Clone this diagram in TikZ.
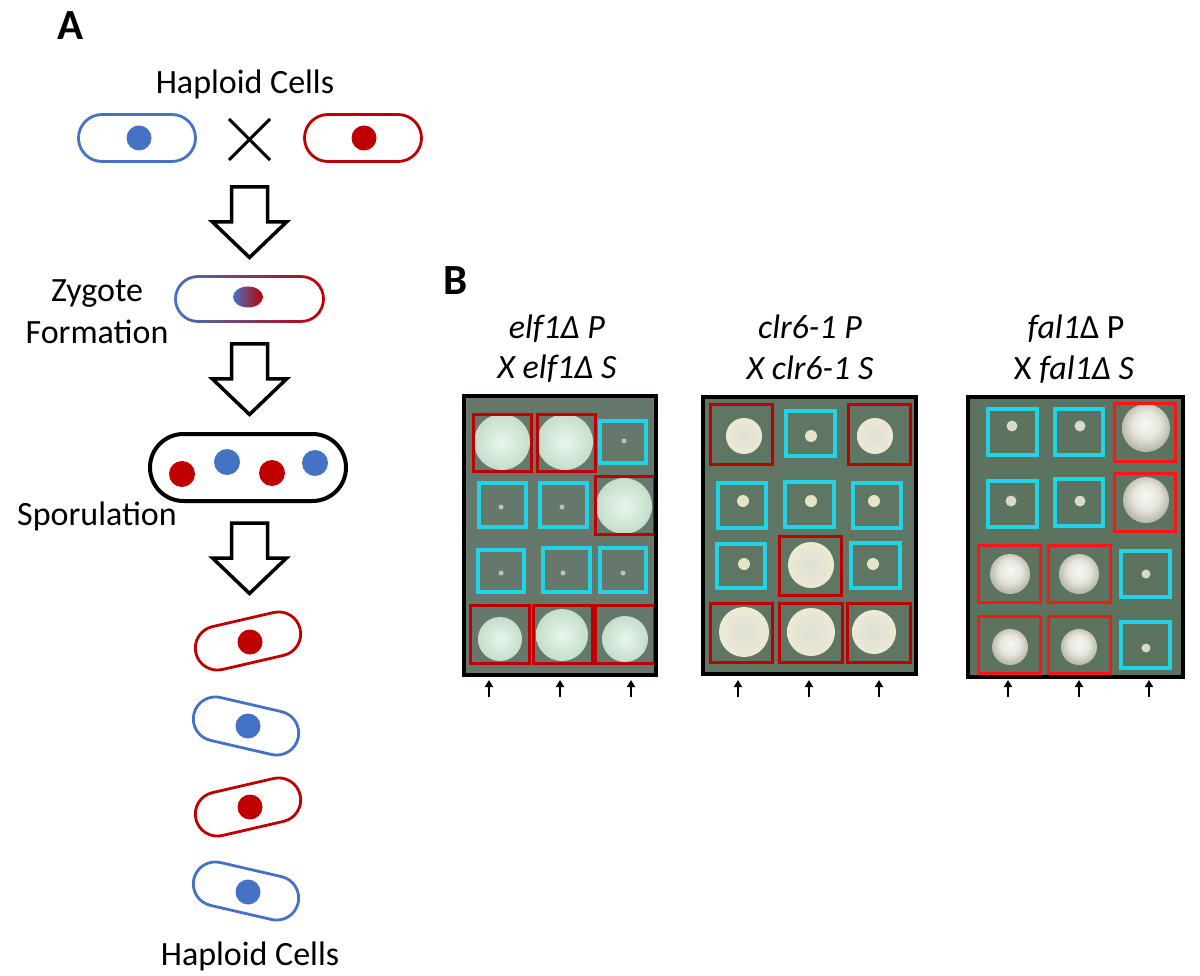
\documentclass[tikz,border=0pt]{standalone}
\usepackage{fontspec}
\setmainfont{Carlito}
\usetikzlibrary{shapes.geometric,arrows.meta}
\definecolor{cblue}{HTML}{4472C4}
\definecolor{cred}{HTML}{C00000}
\definecolor{boxred}{HTML}{C00000}
\definecolor{boxbright}{HTML}{FF1414}
\definecolor{boxcyan}{HTML}{22D3E6}
\definecolor{plateA}{HTML}{66786C}
\definecolor{plateB}{HTML}{5F7664}
\definecolor{plateC}{HTML}{5C735F}
\definecolor{mintin}{HTML}{E8F6EC}
\definecolor{mintout}{HTML}{C4DECB}
\definecolor{creamin}{HTML}{DEDED8}
\definecolor{creamout}{HTML}{ECEAD2}
\definecolor{pearlin}{HTML}{F8F8F4}
\definecolor{pearlmid}{HTML}{E6E6DE}
\definecolor{pearlout}{HTML}{BCBCAE}
\definecolor{dotA}{HTML}{B4C6B6}
\definecolor{dotB}{HTML}{E6E3C8}
\definecolor{dotC}{HTML}{D8D8CC}
\pgfdeclareradialshading{pearl}{\pgfpoint{0bp}{5bp}}{color(0bp)=(pearlin); color(14bp)=(pearlmid); color(25bp)=(pearlout); color(50bp)=(pearlout)}
\tikzset{
  txt/.style={font=\fontsize{34}{40}\selectfont, inner sep=0pt, anchor=base},
  panel/.style={font=\fontsize{43}{50}\selectfont\bfseries, inner sep=0pt, anchor=base},
  cell/.style={rectangle, rounded corners=23.5pt, draw, line width=2.8pt, fill=white, minimum width=117pt, minimum height=47pt, inner sep=0pt},
  scell/.style={cell, rounded corners=22pt, minimum width=107pt, minimum height=44pt},
  nuc/.style={circle, inner sep=0pt, minimum size=25pt},
  bignuc/.style={circle, inner sep=0pt, minimum size=26pt},
  blockarrow/.pic={\draw[line width=3.5pt, fill=white, line join=miter] (-18,0) -- (18,0) -- (18,35) -- (37,35) -- (0,70.5) -- (-37,35) -- (-18,35) -- cycle;},
  plate/.style={draw=black, line width=4pt},
  rbox/.style={draw=boxred, line width=3pt},
  bbox/.style={draw=boxbright, line width=3pt},
  cbox/.style={draw=boxcyan, line width=3.2pt},
  tick/.style={line width=1.8pt, -{Triangle[width=8pt,length=7pt]}},
}
\begin{document}
\begin{tikzpicture}[x=1pt,y=-1pt]
\useasboundingbox (0,0) rectangle (1200,976);
\fill[white] (0,0) rectangle (1200,976);

% ---------------- Panel A ----------------
\node[panel] (labA) at (71,40) {A};
\node[txt] (hap1) at (245,94) {Haploid Cells};

\node[cell, draw=cblue] (c1) at (137,138) {};
\node[nuc, fill=cblue] (n1) at (139,138) {};
\draw[line width=3pt] (229,119) -- (270,160) (229,160) -- (270,119);
\node[cell, draw=cred] (c2) at (363,138) {};
\node[nuc, fill=cred] (n2) at (364,138) {};

\pic at (249.5,187) {blockarrow};

% zygote
\node[rectangle, minimum width=150pt, minimum height=47.5pt, inner sep=0pt] (zyg) at (249.5,299) {};
\shade[left color=cblue, right color=cred, even odd rule]
  [rounded corners=23.9pt] (174.1,275.1) rectangle (324.9,322.9)
  [rounded corners=21.1pt] (176.9,277.9) rectangle (322.1,320.1);
\node[ellipse, minimum width=30pt, minimum height=21pt, inner sep=0pt, left color=cblue, right color=cred] (zn) at (248,297) {};
\node[txt] (zt1) at (97,302) {Zygote};
\node[txt] (zt2) at (97,344) {Formation};

\pic at (249.5,344) {blockarrow};

% ascus
\node[rectangle, rounded corners=33.5pt, draw, line width=4pt, minimum width=196pt, minimum height=67pt, inner sep=0pt] (asc) at (248,467.5) {};
\node[bignuc, fill=cred] (s1) at (182,474) {};
\node[bignuc, fill=cblue] (s2) at (227,462) {};
\node[bignuc, fill=cred] (s3) at (272,473) {};
\node[bignuc, fill=cblue] (s4) at (315,463) {};
\node[txt] (spo) at (97,525) {Sporulation};

\pic at (249.5,523) {blockarrow};

% haploid progeny
\node[scell, draw=cred, rotate=13] (h1) at (248,641) {};
\node[nuc, fill=cred] (hn1) at (250,642) {};
\node[scell, draw=cblue, rotate=-13] (h2) at (246,726) {};
\node[nuc, fill=cblue] (hn2) at (248,726) {};
\node[scell, draw=cred, rotate=13] (h3) at (248,807) {};
\node[nuc, fill=cred] (hn3) at (250,807) {};
\node[scell, draw=cblue, rotate=-13] (h4) at (246,891) {};
\node[nuc, fill=cblue] (hn4) at (248,892) {};
\node[txt] (hap2) at (250,965) {Haploid Cells};

% ---------------- Panel B ----------------
\node[panel] (labB) at (456,295) {B};

% titles
\node[txt] (t1a) at (557,339) {\itshape elf1Δ P};
\node[txt] (t1b) at (557,379) {\itshape X elf1Δ S};
\node[txt] (t2a) at (810,339) {\itshape clr6-1 P};
\node[txt] (t2b) at (810,380) {\itshape X clr6-1 S};
\node[txt] (t3a) at (1076,339) {\textit{fal1}Δ P};
\node[txt] (t3b) at (1074,380) {X \textit{fal1Δ S}};

% plate 1
\fill[plateA] (464,396) rectangle (656,675);
\foreach \x/\y/\r in {502/442/28, 565/442/28, 624/506/28, 500/639/22, 562/635/26, 625/639/23}
  \shade[inner color=mintin, outer color=mintout] (\x,\y) circle (\r pt);
\foreach \x/\y in {624/441, 501/507, 562/507, 501/573, 563/573, 623/573}
  \fill[dotA] (\x,\y) circle (2.5pt);
\draw[rbox] (473,414) rectangle (531,471);
\draw[rbox] (537,414) rectangle (595,471);
\draw[cbox] (600,421) rectangle (646,463);
\draw[cbox] (479,483) rectangle (526,527);
\draw[cbox] (540,483) rectangle (587,527);
\draw[rbox] (595,476) rectangle (654,534);
\draw[cbox] (478,550) rectangle (524,592);
\draw[cbox] (543,548) rectangle (590,592);
\draw[cbox] (600,548) rectangle (646,592);
\draw[rbox] (470,605) rectangle (529,663);
\draw[rbox] (533,605) rectangle (592,663);
\draw[rbox] (595,605) rectangle (654,663);
\draw[plate] (464,396) rectangle (656,675);

% plate 2
\fill[plateB] (703,397) rectangle (916,674);
\foreach \x/\y/\r in {744/436/18, 875/436/18, 811/565/23, 744/632/25, 811/632/24, 874/632/22}
  \shade[inner color=creamin, outer color=creamout] (\x,\y) circle (\r pt);
\foreach \x/\y in {811/436, 743/501, 811/501, 874/501, 744/564, 873/564}
  \fill[dotB] (\x,\y) circle (6pt);
\draw[rbox] (710,404) rectangle (772,464);
\draw[cbox] (786,411) rectangle (835,456);
\draw[rbox] (848,404) rectangle (910,464);
\draw[cbox] (718,483) rectangle (766,528);
\draw[cbox] (785,482) rectangle (834,527);
\draw[cbox] (853,483) rectangle (901,528);
\draw[cbox] (717,544) rectangle (765,588);
\draw[rbox] (779,536) rectangle (841,595);
\draw[cbox] (851,543) rectangle (900,588);
\draw[rbox] (710,603) rectangle (772,662);
\draw[rbox] (779,603) rectangle (842,662);
\draw[rbox] (847,603) rectangle (910,662);
\draw[plate] (703,397) rectangle (916,674);

% plate 3
\fill[plateC] (968,397) rectangle (1183,677);
\foreach \x/\y/\r in {1146/428/24, 1146/500/23, 1010/574/20, 1079/574/20, 1010/647/18, 1079/647/18}
  \shade[shading=pearl] (\x,\y) circle (\r pt);
\foreach \x/\y/\r in {1012/426/5.5, 1080/426/5.5, 1011/501/5.5, 1080/501/5.5, 1146/574/4.5, 1146/648/4.5}
  \fill[dotC] (\x,\y) circle (\r pt);
\draw[cbox] (988,409) rectangle (1037,455);
\draw[cbox] (1055,409) rectangle (1103,455);
\draw[bbox] (1114,403) rectangle (1175,461);
\draw[cbox] (988,481) rectangle (1037,527);
\draw[cbox] (1055,479) rectangle (1103,526);
\draw[bbox] (1114,473) rectangle (1175,531);
\draw[bbox] (978,545) rectangle (1040,602);
\draw[bbox] (1048,545) rectangle (1110,602);
\draw[cbox] (1121,551) rectangle (1170,597);
\draw[bbox] (978,616) rectangle (1040,673);
\draw[bbox] (1048,616) rectangle (1110,673);
\draw[cbox] (1121,622) rectangle (1170,668);
\draw[plate] (968,397) rectangle (1183,677);

% small arrows
\foreach \x in {489,560,631,738,809,879,1008,1079,1149}
  \draw[tick] (\x,697) -- (\x,680);
\end{tikzpicture}
\end{document}
